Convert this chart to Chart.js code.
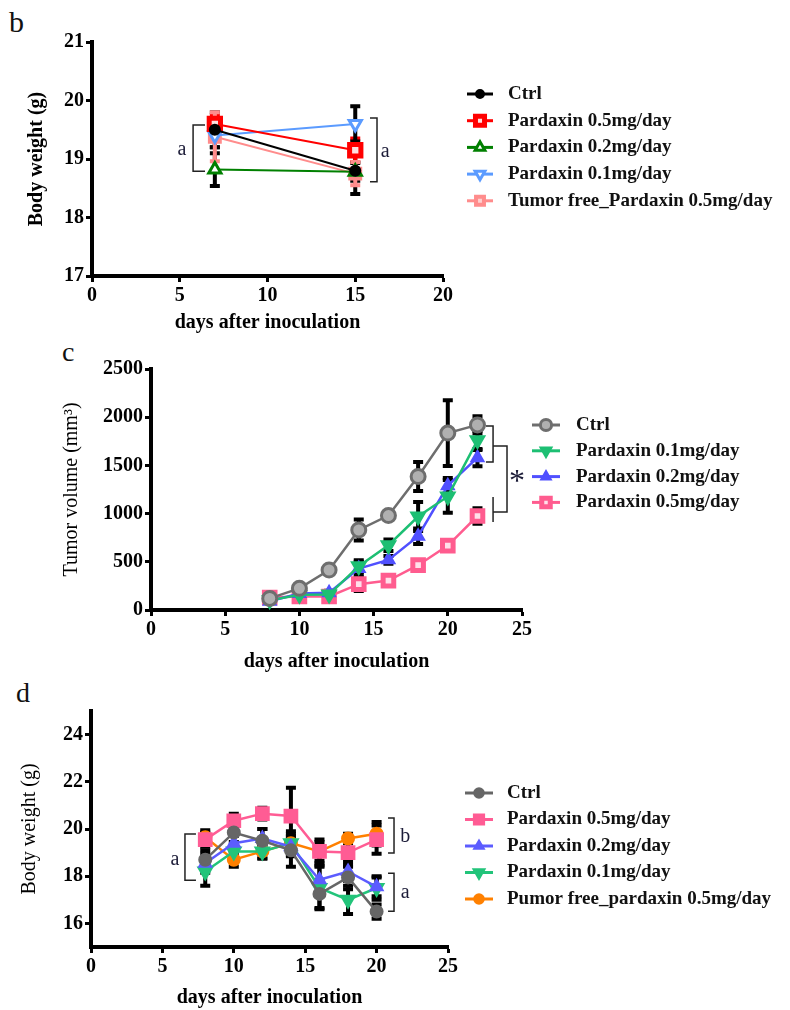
<!DOCTYPE html>
<html>
<head>
<meta charset="utf-8">
<script src="https://cdn.jsdelivr.net/npm/chart.js"></script>
<style>
  body { margin: 0; background: #fff; width: 790px; height: 1010px; position: relative; overflow: hidden; }
  canvas { position: absolute; left: 0; }
  .tag { position: absolute; font-family: "Liberation Serif", serif; color: #111; }
</style>
</head>
<body>
<div class="tag" style="left:9px;top:5px;font-size:30px;">b</div>
<div class="tag" style="left:62px;top:336px;font-size:28px;">c</div>
<div class="tag" style="left:16px;top:677px;font-size:28px;">d</div>
<canvas id="chartB" width="790" height="335" style="top:0"></canvas>
<canvas id="chartC" width="790" height="340" style="top:335px"></canvas>
<canvas id="chartD" width="790" height="335" style="top:675px"></canvas>
<script>
// panel b - body weight
const daysB = [7, 15];
const bCtrl = [19.5, 18.8];
const bCtrlErr = [0.3, 0.4];
const bP05 = [19.6, 19.15];
const bP05Err = [0.15, 0.2];
const bP02 = [18.82, 18.78];
const bP02Err = [0.28, 0.15];
const bP01 = [19.4, 19.6];
const bP01Err = [0.2, 0.3];
const bFree = [19.38, 18.75];
const bFreeErr = [0.42, 0.2];
const bTicksX = [0, 5, 10, 15, 20];
const bTicksY = [17, 18, 19, 20, 21];

// panel c - tumor volume
const daysC = [8, 10, 12, 14, 16, 18, 20, 22];
const cCtrl = [120, 225, 415, 830, 980, 1385, 1835, 1920];
const cCtrlErr = [20, 30, 40, 110, 30, 150, 340, 90];
const cP01 = [100, 158, 160, 455, 672, 970, 1178, 1760];
const cP01Err = [20, 20, 20, 60, 60, 150, 170, 100];
const cP02 = [90, 170, 180, 430, 520, 765, 1290, 1580];
const cP02Err = [15, 20, 20, 70, 40, 80, 80, 90];
const cP05 = [130, 140, 140, 268, 305, 465, 668, 975];
const cP05Err = [15, 15, 15, 70, 30, 30, 30, 80];
const cTicksX = [0, 5, 10, 15, 20, 25];
const cTicksY = [0, 500, 1000, 1500, 2000, 2500];

// panel d - body weight
const daysD = [8, 10, 12, 14, 16, 18, 20];
const dCtrl = [18.7, 19.85, 19.5, 19.1, 17.25, 17.95, 16.5];
const dCtrlErr = [0.4, 0.4, 0.5, 0.7, 0.6, 0.5, 0.3];
const dP05 = [19.55, 20.35, 20.65, 20.55, 19.05, 19.0, 19.55];
const dP05Err = [0.3, 0.3, 0.25, 1.2, 0.5, 0.6, 0.6];
const dP02 = [18.55, 19.4, 19.6, 19.25, 17.85, 18.2, 17.55];
const dP02Err = [0.4, 0.3, 0.4, 0.4, 0.6, 0.4, 0.4];
const dP01 = [18.2, 19.05, 19.05, 19.4, 17.5, 17.0, 17.5];
const dP01Err = [0.6, 0.2, 0.3, 0.5, 0.9, 0.6, 0.5];
const dFree = [19.65, 18.7, 19.05, 19.4, 19.05, 19.6, 19.8];
const dFreeErr = [0.3, 0.3, 0.3, 0.3, 0.4, 0.2, 0.5];
const dTicksX = [0, 5, 10, 15, 20, 25];
const dTicksY = [16, 18, 20, 22, 24];

const SERIF = '"Liberation Serif", "Times New Roman", serif';
Chart.defaults.font.family = SERIF;
Chart.defaults.color = '#000';

function pts(days, vals) {
  return days.map((d, i) => ({ x: d, y: vals[i] }));
}

function series(label, days, vals, err, color, o) {
  return Object.assign({
    label: label,
    data: pts(days, vals),
    err: err,
    errColor: '#000',
    borderColor: color,
    backgroundColor: color,
    pointBorderColor: color,
    pointBackgroundColor: color,
    borderWidth: 2.5,
    pointRadius: 6,
    pointBorderWidth: 2,
    pointStyle: 'circle',
    pointRotation: 0,
    clip: false
  }, o || {});
}

function axes(a) {
  const tickFont = { size: 20, weight: 'bold' };
  const grid = { drawOnChartArea: false, drawTicks: true, tickLength: 6, tickWidth: 3, tickColor: '#000' };
  return {
    x: {
      type: 'linear', min: a.xMin, max: a.xMax,
      afterBuildTicks: s => { s.ticks = a.xTicks.map(v => ({ value: v })); },
      ticks: { font: tickFont, color: '#000', padding: 2, maxRotation: 0, callback: v => String(v) },
      grid: grid,
      border: { color: '#000', width: 4 },
      title: { display: true, text: 'days after inoculation', font: { size: 20, weight: 'bold' }, color: '#000', padding: { top: 0, bottom: a.xTitlePad } },
      afterFit: s => { s.height = a.xHeight; s.paddingLeft = 0; s.paddingRight = 0; }
    },
    y: {
      type: 'linear', min: a.yMin, max: a.yMax,
      afterBuildTicks: s => { s.ticks = a.yTicks.map(v => ({ value: v })); },
      ticks: { font: tickFont, color: '#000', padding: 2, callback: v => String(v) },
      grid: grid,
      border: { color: '#000', width: 4 },
      title: { display: true, text: a.yTitle, font: { size: 20, weight: a.yBold ? 'bold' : 'normal' }, color: '#000', padding: { top: a.yTitlePad, bottom: 0 } },
      afterFit: s => { s.width = a.yWidth; s.paddingTop = 0; s.paddingBottom = 0; }
    }
  };
}

const errorBars = {
  id: 'errorBars',
  beforeDatasetsDraw(chart) {
    const ctx = chart.ctx;
    const xs = chart.scales.x, ys = chart.scales.y;
    chart.data.datasets.forEach(ds => {
      if (!ds.err) return;
      ctx.save();
      ctx.strokeStyle = ds.errColor;
      ctx.lineWidth = 4;
      ds.data.forEach((p, i) => {
        const e = ds.err[i];
        if (!e) return;
        const px = xs.getPixelForValue(p.x);
        const y1 = ys.getPixelForValue(p.y + e);
        const y2 = ys.getPixelForValue(p.y - e);
        ctx.beginPath();
        ctx.moveTo(px, y1); ctx.lineTo(px, y2);
        ctx.moveTo(px - 5, y1); ctx.lineTo(px + 5, y1);
        ctx.moveTo(px - 5, y2); ctx.lineTo(px + 5, y2);
        ctx.stroke();
      });
      ctx.restore();
    });
  }
};

function sideLegend(cfg) {
  return {
    id: 'sideLegend',
    afterDraw(chart) {
      const ctx = chart.ctx;
      chart.data.datasets.forEach((ds, i) => {
        const y = cfg.y + i * cfg.gap;
        ctx.save();
        ctx.strokeStyle = ds.borderColor;
        ctx.lineWidth = 3;
        ctx.beginPath(); ctx.moveTo(cfg.x0, y); ctx.lineTo(cfg.x1, y); ctx.stroke();
        ctx.fillStyle = ds.pointBackgroundColor;
        ctx.strokeStyle = ds.pointBorderColor;
        ctx.lineWidth = ds.pointBorderWidth;
        Chart.helpers.drawPoint(ctx, {
          pointStyle: ds.pointStyle, rotation: ds.pointRotation,
          radius: ds.pointRadius * 0.8, borderWidth: ds.pointBorderWidth
        }, (cfg.x0 + cfg.x1) / 2, y);
        ctx.fillStyle = '#111';
        ctx.font = 'bold 19px ' + SERIF;
        ctx.textAlign = 'left';
        ctx.textBaseline = 'middle';
        ctx.fillText(ds.label, cfg.tx, y);
        ctx.restore();
      });
    }
  };
}

function notes(list) {
  return {
    id: 'notes',
    afterDraw(chart) {
      const ctx = chart.ctx;
      const xs = chart.scales.x, ys = chart.scales.y;
      ctx.save();
      ctx.strokeStyle = '#222';
      ctx.lineWidth = 1.5;
      ctx.fillStyle = '#1c1c38';
      list.forEach(n => {
        if (n.path) {
          ctx.beginPath();
          n.path.forEach((q, k) => {
            const px = xs.getPixelForValue(q[0]), py = ys.getPixelForValue(q[1]);
            if (k) ctx.lineTo(px, py); else ctx.moveTo(px, py);
          });
          ctx.stroke();
        }
        if (n.text) {
          ctx.font = n.font || ('20px ' + SERIF);
          ctx.textAlign = 'center';
          ctx.textBaseline = 'middle';
          ctx.fillText(n.text, xs.getPixelForValue(n.at[0]), ys.getPixelForValue(n.at[1]));
        }
      });
      ctx.restore();
    }
  };
}

const baseOptions = (padding, scales) => ({
  responsive: false,
  animation: false,
  devicePixelRatio: 1,
  layout: { padding: padding },
  plugins: { legend: { display: false }, tooltip: { enabled: false } },
  scales: scales
});

// ---- panel b
new Chart(document.getElementById('chartB'), {
  type: 'line',
  data: {
    datasets: [
      series('Ctrl', daysB, bCtrl, bCtrlErr, '#000000', { borderWidth: 2, pointRadius: 5 }),
      series('Pardaxin 0.5mg/day', daysB, bP05, bP05Err, '#ff0000', { errColor: '#ff0000', borderWidth: 2, pointStyle: 'rect', pointRadius: 8, pointBorderWidth: 5, pointBackgroundColor: '#ffe0e0' }),
      series('Pardaxin 0.2mg/day', daysB, bP02, bP02Err, '#008000', { borderWidth: 2, pointStyle: 'triangle', pointRadius: 7, pointBorderWidth: 3, pointBackgroundColor: '#ffffff' }),
      series('Pardaxin 0.1mg/day', daysB, bP01, bP01Err, '#5b9bff', { borderWidth: 2, pointStyle: 'triangle', pointRotation: 180, pointRadius: 7, pointBorderWidth: 3, pointBackgroundColor: '#ffffff' }),
      series('Tumor free_Pardaxin 0.5mg/day', daysB, bFree, bFreeErr, '#ff8c8c', { errColor: '#ff8c8c', borderWidth: 2, pointStyle: 'rect', pointRadius: 7, pointBorderWidth: 4, pointBackgroundColor: '#ffd0d0' })
    ]
  },
  options: baseOptions({ left: 0, top: 42, right: 347, bottom: 0 }, axes({
    xMin: 0, xMax: 20, xTicks: bTicksX, xHeight: 59, xTitlePad: 0,
    yMin: 17, yMax: 21, yTicks: bTicksY, yWidth: 92, yTitle: 'Body weight (g)', yBold: true, yTitlePad: 25
  })),
  plugins: [errorBars, sideLegend({ x0: 467, x1: 493, tx: 508, y: 94, gap: 26.7 }), notes([
    { path: [[6.44, 19.58], [5.76, 19.58], [5.76, 18.79], [6.44, 18.79]] },
    { text: 'a', at: [5.13, 19.15] },
    { path: [[15.84, 19.7], [16.24, 19.7], [16.24, 18.61], [15.84, 18.61]] },
    { text: 'a', at: [16.7, 19.12] }
  ])]
});

// ---- panel c
new Chart(document.getElementById('chartC'), {
  type: 'line',
  data: {
    datasets: [
      series('Ctrl', daysC, cCtrl, cCtrlErr, '#6e6e6e', { pointRadius: 7, pointBorderWidth: 3, pointBackgroundColor: '#b0b0b0' }),
      series('Pardaxin 0.1mg/day', daysC, cP01, cP01Err, '#1dbf73', { pointStyle: 'triangle', pointRotation: 180, pointRadius: 8 }),
      series('Pardaxin 0.2mg/day', daysC, cP02, cP02Err, '#5050ff', { pointStyle: 'triangle', pointRadius: 7 }),
      series('Pardaxin 0.5mg/day', daysC, cP05, cP05Err, '#ff5c8f', { pointStyle: 'rect', pointRadius: 7.5, pointBorderWidth: 5, pointBackgroundColor: '#ffe0ea' })
    ]
  },
  options: baseOptions({ left: 0, top: 34, right: 268, bottom: 0 }, axes({
    xMin: 0, xMax: 25, xTicks: cTicksX, xHeight: 65, xTitlePad: 1,
    yMin: 0, yMax: 2500, yTicks: cTicksY, yWidth: 151, yTitle: 'Tumor volume (mm³)', yBold: false, yTitlePad: 60
  })),
  plugins: [errorBars, sideLegend({ x0: 532, x1: 560, tx: 576, y: 90, gap: 25.8 }), notes([
    { path: [[22.57, 1909], [23.05, 1909], [23.05, 1535], [22.57, 1535]] },
    { path: [[23.05, 1701], [23.99, 1701], [23.99, 1017], [23.05, 1017]] },
    { path: [[23.05, 1172], [23.05, 913]] },
    { text: '*', at: [24.66, 1320], font: '32px ' + SERIF }
  ])]
});

// ---- panel d
new Chart(document.getElementById('chartD'), {
  type: 'line',
  data: {
    datasets: [
      series('Ctrl', daysD, dCtrl, dCtrlErr, '#666666'),
      series('Pardaxin 0.5mg/day', daysD, dP05, dP05Err, '#ff5c94', { pointStyle: 'rect', pointRadius: 9 }),
      series('Pardaxin 0.2mg/day', daysD, dP02, dP02Err, '#5c5cff', { pointStyle: 'triangle', pointRadius: 7 }),
      series('Pardaxin 0.1mg/day', daysD, dP01, dP01Err, '#22c47a', { pointStyle: 'triangle', pointRotation: 180, pointRadius: 8 }),
      series('Pumor free_pardaxin 0.5mg/day', daysD, dFree, dFreeErr, '#ff8000')
    ]
  },
  options: baseOptions({ left: 0, top: 36, right: 342, bottom: 0 }, axes({
    xMin: 0, xMax: 25, xTicks: dTicksX, xHeight: 63, xTitlePad: 0,
    yMin: 15, yMax: 25, yTicks: dTicksY, yWidth: 91, yTitle: 'Body weight (g)', yBold: false, yTitlePad: 18
  })),
  plugins: [errorBars, sideLegend({ x0: 465, x1: 493, tx: 507, y: 118, gap: 26.5 }), notes([
    { path: [[7.35, 19.79], [6.58, 19.79], [6.58, 17.83], [7.35, 17.83]] },
    { text: 'a', at: [5.88, 18.68] },
    { path: [[20.8, 20.47], [21.22, 20.47], [21.22, 18.98], [20.8, 18.98]] },
    { text: 'b', at: [22.0, 19.66] },
    { path: [[20.8, 18.13], [21.22, 18.13], [21.22, 16.51], [20.8, 16.51]] },
    { text: 'a', at: [22.0, 17.28] }
  ])]
});
</script>
</body>
</html>
